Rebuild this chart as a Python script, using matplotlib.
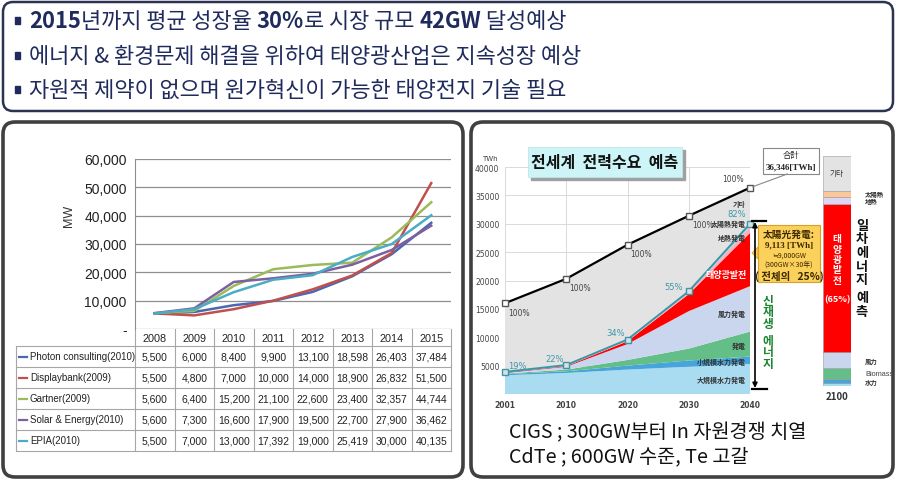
import numpy as np
import matplotlib.pyplot as plt
from matplotlib.patches import FancyBboxPatch, Rectangle, Polygon

plt.rcParams['font.family'] = ['Noto Sans CJK KR', 'DejaVu Sans']

# ---- top bullets ----
bullet_1 = [('2015', 'bold'), ('년까지 평균 성장율 ', 'normal'), ('30%', 'bold'),
            ('로 시장 규모 ', 'normal'), ('42GW', 'bold'), (' 달성예상', 'normal')]
bullet_2 = '에너지 & 환경문제 해결을 위하여 태양광산업은 지속성장 예상'
bullet_3 = '자원적 제약이 없으며 원가혁신이 가능한 태양전지 기술 필요'

# ---- left chart: PV market forecasts (MW) ----
years = ['2008', '2009', '2010', '2011', '2012', '2013', '2014', '2015']
sources = ['Photon consulting(2010)', 'Displaybank(2009)', 'Gartner(2009)',
           'Solar & Energy(2010)', 'EPIA(2010)']
photon = [5500, 6000, 8400, 9900, 13100, 18598, 26403, 37484]
displaybank = [5500, 4800, 7000, 10000, 14000, 18900, 26832, 51500]
gartner = [5600, 6400, 15200, 21100, 22600, 23400, 32357, 44744]
solar_energy = [5600, 7300, 16600, 17900, 19500, 22700, 27900, 36462]
epia = [5500, 7000, 13000, 17392, 19000, 25419, 30000, 40135]
line_colors = ['#4a68b0', '#c0504d', '#9bbb59', '#7d60a0', '#4bacc6']

# ---- right chart: world power demand (TWh) ----
periods = ['2001', '2010', '2020', '2030', '2040']
total = [16000, 20300, 26300, 31400, 36346]
big_hydro = [3300, 3700, 4300, 4800, 5300]
small_hydro = [200, 300, 700, 1100, 1300]
biomass = [100, 300, 1000, 2100, 4400]
wind = [100, 500, 2800, 6600, 8000]
solar_pv = [100, 100, 500, 3000, 9400]
geothermal = [50, 100, 200, 300, 1100]
solar_thermal = [50, 100, 100, 200, 500]
renew_share = ['19%', '22%', '34%', '55%', '82%']
total_share = ['100%'] * 5
layer_names = ['大規模水力発電', '小規模水力発電', '発電', '風力発電', '태양광발전', '地熱発電', '太陽熱発電', '기타']
layer_colors = ['#a9dcf1', '#47a5dc', '#63bf87', '#c9d6ee', '#ff0000', '#f3b4c2', '#a9d8e2', '#e3e3e3']

# 2100 primary energy mix (%), bottom to top
mix_names = ['', '水力', 'Biomass', '風力', '태양광발전', '地熱', '太陽熱', '기타']
mix_2100 = [1.2, 1.8, 4.8, 7.0, 64.3, 3.1, 2.6, 15.2]
mix_colors = ['#a9dcf1', '#47a5dc', '#63bf87', '#c9d6ee', '#ff0000', '#dcd6f2', '#fcc79a', '#e3e3e3']

W, H = 897, 481
fig = plt.figure(figsize=(W / 100, H / 100), dpi=100)


def px_axes(x0, y0, x1, y1, z=1):
    return fig.add_axes([x0 / W, 1 - y1 / H, (x1 - x0) / W, (y1 - y0) / H], zorder=z)


bg = px_axes(0, 0, W, H, z=0)
bg.set_xlim(0, W)
bg.set_ylim(H, 0)
bg.axis('off')

# panels
bg.add_patch(FancyBboxPatch((3, 3), 890, 109, boxstyle='round,pad=0,rounding_size=10',
                            fc='white', ec='#2c3352', lw=1.8))
bg.add_patch(FancyBboxPatch((3, 123), 460, 355, boxstyle='round,pad=0,rounding_size=12',
                            fc='white', ec='#404040', lw=2.6))
bg.add_patch(FancyBboxPatch((471, 123), 422, 355, boxstyle='round,pad=0,rounding_size=12',
                            fc='white', ec='#404040', lw=2.6))

navy = '#1f2b5c'
top_fs = 15.8
for yy in [22, 57, 91]:
    bg.add_patch(Rectangle((15, yy - 4), 5, 7, color=navy))
t = bg.text(29, 22, bullet_1[0][0], fontsize=top_fs, fontweight=bullet_1[0][1], color=navy, va='center')
for s, w in bullet_1[1:]:
    t = bg.annotate(s, xy=(1, 0), xycoords=t, va='bottom', ha='left', fontsize=top_fs,
                    fontweight=w, color=navy)
bg.text(29, 57, bullet_2, fontsize=top_fs, color=navy, va='center')
bg.text(29, 91, bullet_3, fontsize=top_fs, color=navy, va='center')

# ---- left chart ----
series = [photon, displaybank, gartner, solar_energy, epia]
grid_c = '#8f8f8f'
ax1 = px_axes(135, 160, 451, 330)
ax1.patch.set_alpha(0)
x = np.arange(len(years))
for vals, c in zip(series, line_colors):
    ax1.plot(x, vals, color=c, lw=1.8)
ax1.set_xlim(-0.5, len(years) - 0.5)
ax1.set_ylim(0, 60000)
ticks = list(range(0, 60001, 10000))
ax1.set_yticks(ticks)
ax1.set_yticklabels(['-'] + [f'{v:,}' for v in ticks[1:]], family=['Liberation Sans', 'DejaVu Sans'])
ax1.tick_params(axis='y', length=0, pad=6, labelsize=10, colors='#222222')
ax1.set_xticks([])
ax1.grid(axis='y', color=grid_c, lw=0.9)
for s in ['top', 'right', 'bottom']:
    ax1.spines[s].set_visible(False)
ax1.spines['left'].set_color(grid_c)
ax1.set_ylabel('MW', fontsize=9, color='#333333', family=['Liberation Sans', 'DejaVu Sans'])
ax1.yaxis.set_label_coords(-0.19, 0.67)

# data table under the chart
tab_font = ['Liberation Sans', 'DejaVu Sans']
col_w = (451 - 135) / len(years)
row_top, row_h = 347, 21
for i in range(len(years) + 1):
    bg.plot([135 + i * col_w] * 2, [330, row_top + row_h * len(sources)], color='#a6a6a6', lw=0.8)
bg.plot([16, 16], [row_top, row_top + row_h * len(sources)], color='#a6a6a6', lw=0.8)
for r in range(len(sources) + 1):
    bg.plot([16, 451], [row_top + r * row_h] * 2, color='#a6a6a6', lw=0.8)
for i, yr in enumerate(years):
    bg.text(135 + (i + 0.5) * col_w, 339, yr, ha='center', va='center', fontsize=7.8,
            family=tab_font, color='#222222')
for r, (name, vals, c) in enumerate(zip(sources, series, line_colors)):
    yc = row_top + (r + 0.5) * row_h
    bg.plot([19, 27], [yc, yc], color=c, lw=1.6)
    bg.text(30, yc, name, ha='left', va='center', fontsize=7, family=tab_font, color='#222222')
    for i, v in enumerate(vals):
        bg.text(135 + (i + 0.5) * col_w, yc, f'{v:,}', ha='center', va='center', fontsize=7.5,
                family=tab_font, color='#222222')

# ---- right chart ----
ax2 = px_axes(505, 168, 750, 395)
xp = np.arange(len(periods))
layers = [big_hydro, small_hydro, biomass, wind, solar_pv, geothermal, solar_thermal]
renew_top = np.sum(layers, axis=0)
other = np.array(total) - renew_top
ax2.stackplot(xp, *layers, other, colors=layer_colors, edgecolor='none', lw=0, zorder=2)
ax2.plot(xp, renew_top, color='#3a97a8', lw=1.4, marker='s', ms=4, mfc='#dedede', mec='#3a97a8',
         zorder=4, clip_on=False)
ax2.plot(xp, total, color='black', lw=1.6, marker='s', ms=5, mfc='white', mec='#555555',
         zorder=5, clip_on=False)
ax2.set_xlim(0, len(periods) - 1)
ax2.set_ylim(0, 40000)
ax2.set_xticks(xp)
ax2.set_xticklabels(periods, fontsize=5.5, fontweight='bold', color='#444444', family='DejaVu Sans')
ax2.set_yticks(range(5000, 40001, 5000))
ax2.set_yticklabels([str(v) for v in range(5000, 40001, 5000)], fontsize=5.5, color='#444444',
                    family='DejaVu Sans')
ax2.tick_params(length=0, pad=4)
ax2.grid(color='#dadada', lw=0.7, zorder=1)
ax2.set_axisbelow(True)
for s in ax2.spines.values():
    s.set_visible(False)
ax2.text(-0.03, 1.03, 'TWh', transform=ax2.transAxes, ha='right', fontsize=5, color='#444444',
         family='DejaVu Sans')

for i in range(len(periods)):
    if i < len(periods) - 1:
        ax2.annotate(total_share[i], (i, total[i]), xytext=(3, -9), textcoords='offset pixels',
                     ha='left', va='center', fontsize=5.5, color='#444444', family='DejaVu Sans')
    else:
        ax2.annotate(total_share[i], (i, total[i]), xytext=(-6, 9), textcoords='offset pixels',
                     ha='right', va='center', fontsize=5.5, color='#444444', family='DejaVu Sans')
renew_off = [(3, 6, 'left'), (-2, 7, 'right'), (-3, 7, 'right'), (-6, 5, 'right'), (-4, 10, 'right')]
for i, (dx, dy, ha) in enumerate(renew_off):
    ax2.annotate(renew_share[i], (i, renew_top[i]), xytext=(dx, dy), textcoords='offset pixels',
                 ha=ha, va='center', fontsize=6, color='#3a97a8', family='DejaVu Sans', zorder=6)

# layer labels near 2040
label_y = [2600, 5700, 8500, 14300, None, 27600, 30100, 33600]
for name, ly in zip(layer_names, label_y):
    if ly is None:
        continue
    ax2.text(3.93, ly, name, ha='right', va='center', fontsize=5, fontweight='bold',
             color='#333333', zorder=6)
ax2.text(3.6, 21000, layer_names[4], ha='center', va='center', fontsize=6.5, fontweight='bold',
         color='white', zorder=6)

# ---- overlay annotations ----
top = px_axes(0, 0, W, H, z=10)
top.set_xlim(0, W)
top.set_ylim(H, 0)
top.axis('off')
top.patch.set_alpha(0)

top.add_patch(Rectangle((531, 151), 154, 30, color='#a0a0a0'))
top.add_patch(Rectangle((528, 148), 154, 30, fc='#cdf5f8', ec='#bde6ea', lw=0.6))
top.text(605, 163, '전세계  전력수요  예측', ha='center', va='center', fontsize=11.5, fontweight='bold',
         color='#111111')

top.annotate('', xy=(len(periods) - 1, total[-1]), xycoords=ax2.transData, xytext=(790, 174),
             textcoords='data', arrowprops=dict(arrowstyle='-', color='#888888', lw=0.8))
top.add_patch(Rectangle((763, 149), 56, 26, fc='white', ec='#888888', lw=0.8))
top.text(791, 156, '合計', ha='center', va='center', fontsize=6, color='#222222')
top.text(791, 167, f'{total[-1]:,}[TWh]', ha='center', va='center', fontsize=6.5, fontweight='bold',
         color='#222222', family=['Liberation Serif', 'DejaVu Serif'])

# renewable range arrow
top.plot([752, 766], [222, 222], color='black', lw=1.6)
top.plot([752, 767], [390, 390], color='black', lw=1.6)
top.annotate('', xy=(755, 223), xytext=(755, 389), arrowprops=dict(arrowstyle='<|-|>', color='black',
             lw=1.2, mutation_scale=7, shrinkA=0, shrinkB=0))
top.text(768, 313, '신\n재\n생', ha='center', va='center', fontsize=8.5, fontweight='bold',
         color='#17862c', linespacing=0.85)
top.text(768, 353, '에\n너\n지', ha='center', va='center', fontsize=8.5, fontweight='bold',
         color='#17862c', linespacing=0.85)

# PV callout box
top.add_patch(Polygon([(758, 248), (752, 254), (758, 260)], fc='#fbd15b', ec='#d9a12a', lw=0.6))
top.add_patch(Rectangle((758, 226), 62, 57, fc='#fbd15b', ec='#d9a12a', lw=0.8))
top.text(789, 235, '太陽光発電:', ha='center', va='center', fontsize=7, fontweight='bold', color='#3a2800')
top.text(789, 245, '9,113 [TWh]', ha='center', va='center', fontsize=6.5, fontweight='bold', color='#3a2800',
         family=['Liberation Serif', 'DejaVu Serif'])
top.text(789, 256, '≒9,000GW', ha='center', va='center', fontsize=5, color='#3a2800')
top.text(789, 265, '(300GW×30年)', ha='center', va='center', fontsize=5, color='#3a2800')
top.text(789, 276, '( 전체의   25%)', ha='center', va='center', fontsize=7.5, fontweight='bold', color='#3a2800')

# 2100 bar
ax3 = px_axes(823, 157, 851, 387, z=2)
ax3.bar([0], [mix_2100[0]], width=1, color=mix_colors[0], ec='#9a9a9a', lw=0.4)
bottom = mix_2100[0]
for v, c in zip(mix_2100[1:], mix_colors[1:]):
    ax3.bar([0], [v], bottom=bottom, width=1, color=c, ec='#9a9a9a', lw=0.4)
    bottom += v
ax3.set_xlim(-0.5, 0.5)
ax3.set_ylim(0, 100)
ax3.axis('off')
cum = np.cumsum(mix_2100) - np.array(mix_2100) / 2
for name, cy in zip(mix_names, cum):
    if name in ('', '태양광발전'):
        continue
    if name == '기타':
        ax3.text(0, cy, name, ha='center', va='center', fontsize=5.5, color='#333333')
    elif name == 'Biomass':
        ax3.text(1.0, cy, name, ha='left', va='center', fontsize=5.3, color='#444444',
                 family=['Liberation Sans', 'DejaVu Sans'])
    else:
        ax3.text(1.0, cy, name, ha='left', va='center', fontsize=4.6, fontweight='bold',
                 color='#333333')
top.text(837, 397, '2100', ha='center', va='center', fontsize=7, fontweight='bold', color='#333333')
top.text(837, 260, '태\n양\n광\n발\n전', ha='center', va='center', fontsize=7, fontweight='bold',
         color='white', linespacing=1.05)
top.text(837, 300, '(65%)', ha='center', va='center', fontsize=6.5, fontweight='bold', color='white')
top.text(862, 253, '일\n차\n에\n너\n지', ha='center', va='center', fontsize=9.5, fontweight='bold',
         color='#111111', linespacing=0.97)
top.text(862, 305, '예\n측', ha='center', va='center', fontsize=9.5, fontweight='bold',
         color='#111111', linespacing=1.0)

# bottom notes
top.text(509, 433, 'CIGS ; 300GW부터 In 자원경쟁 치열', ha='left', va='center', fontsize=14.2, color='#111111')
top.text(509, 457, 'CdTe ; 600GW 수준, Te 고갈', ha='left', va='center', fontsize=14.2, color='#111111')

fig.savefig('out.png', dpi=100)
